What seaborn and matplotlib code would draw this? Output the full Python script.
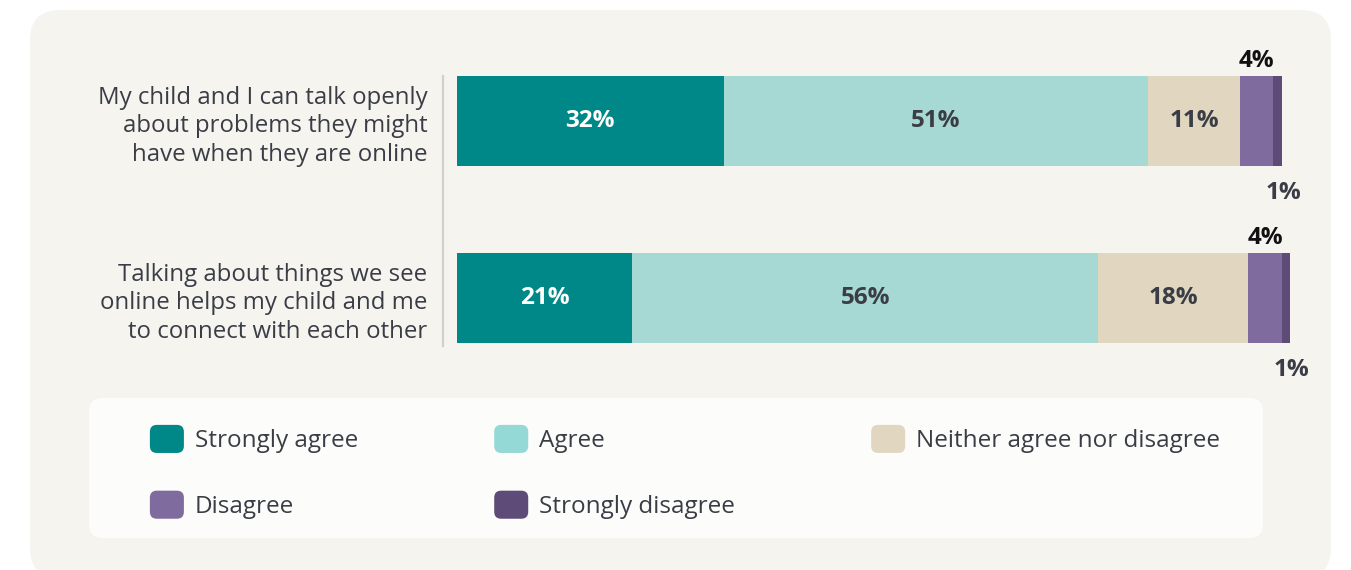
import matplotlib
matplotlib.use("Agg")
import matplotlib.pyplot as plt
from matplotlib.patches import FancyBboxPatch, Patch
from matplotlib.legend_handler import HandlerPatch
from matplotlib.transforms import IdentityTransform
import seaborn as sns
import pandas as pd

# ---- data ----
questions = [
    "My child and I can talk openly\nabout problems they might\nhave when they are online",
    "Talking about things we see\nonline helps my child and me\nto connect with each other",
]
responses = ["Strongly agree", "Agree", "Neither agree nor disagree",
             "Disagree", "Strongly disagree"]
strongly_agree = [32, 21]
agree = [51, 56]
neither = [11, 18]
disagree = [4, 4]
strongly_disagree = [1, 1]

colors = ["#008787", "#A6D8D4", "#E1D6BF", "#7F6B9E", "#5E4B78"]
legend_colors = ["#008787", "#94D9D6", "#E1D6BF", "#7F6B9E", "#5E4B78"]
text_dark = "#3A3D46"

sns.set_theme(style="white")
plt.rcParams["font.family"] = ["Open Sans", "DejaVu Sans"]

rows = []
for name, vals in zip(responses, [strongly_agree, agree, neither,
                                  disagree, strongly_disagree]):
    for q, v in zip(questions, vals):
        rows.append({"question": q, "response": name, "value": v})
df = pd.DataFrame(rows)
df["response"] = pd.Categorical(df["response"], responses, ordered=True)
df = df.sort_values(["question", "response"])
df["cum"] = df.groupby("question", sort=False)["value"].cumsum()
df["start"] = df["cum"] - df["value"]

W, H = 1351, 570
fig = plt.figure(figsize=(W / 100, H / 100), dpi=100)
fig.patch.set_facecolor("white")

# card background and legend panel (pixel coordinates)
fig.patches.append(FancyBboxPatch((30, -8), 1301, 568,
                                  boxstyle="round,pad=0,rounding_size=30",
                                  transform=IdentityTransform(),
                                  facecolor="#F5F4EF", edgecolor="none",
                                  zorder=-2))
fig.patches.append(FancyBboxPatch((89, 32), 1174, 140,
                                  boxstyle="round,pad=0,rounding_size=14",
                                  transform=IdentityTransform(),
                                  facecolor="#FCFCFA", edgecolor="none",
                                  zorder=-1))

ax = fig.add_axes([457 / W, 1 - 386.5 / H, 833 / W, 354 / H])
ax.set_facecolor("none")
ax.set_zorder(2)

bar_h = 0.51
# stacked bars: draw cumulative totals from the last segment backwards
for name, col in reversed(list(zip(responses, colors))):
    sub = df[df["response"] == name]
    sns.barplot(data=sub, x="cum", y="question", order=questions,
                color=col, saturation=1, width=bar_h, orient="h",
                linewidth=0, ax=ax)

ax.set_xlim(0, 100)
ax.set_ylim(1.5, -0.5)
ax.set_xlabel("")
ax.set_ylabel("")
ax.set_xticks([])
for s in ["top", "right", "bottom"]:
    ax.spines[s].set_visible(False)
ax.spines["left"].set_position(("outward", 10))
ax.spines["left"].set_bounds(-0.255, 1.27)
ax.spines["left"].set_color("#D2D0CC")
ax.spines["left"].set_linewidth(1.6)
ax.tick_params(axis="y", length=0, pad=11.5, labelsize=17.3,
               labelcolor=text_dark)
for lab in ax.get_yticklabels():
    lab.set_linespacing(1.27)

# value labels
lab_fs = 17.5
for _, r in df.iterrows():
    i = questions.index(r["question"])
    cx = r["start"] + r["value"] / 2
    txt = f"{r['value']}%"
    if r["response"] == "Disagree":
        ax.annotate(txt, (cx, i - bar_h / 2), xytext=(0, 10.5),
                    textcoords="offset points", ha="center", va="center",
                    fontsize=lab_fs, fontweight="bold", color="#111111",
                    annotation_clip=False)
    elif r["response"] == "Strongly disagree":
        ax.annotate(txt, (cx, i + bar_h / 2), xytext=(4, -19.5),
                    textcoords="offset points", ha="center", va="center",
                    fontsize=lab_fs, fontweight="bold", color=text_dark,
                    annotation_clip=False)
    else:
        c = "white" if r["response"] == "Strongly agree" else text_dark
        ax.text(cx, i, txt, ha="center", va="center", fontsize=lab_fs,
                fontweight="bold", color=c)


class RoundedSwatch(HandlerPatch):
    def create_artists(self, legend, orig_handle, xdescent, ydescent,
                       width, height, fontsize, trans):
        p = FancyBboxPatch((-xdescent, -ydescent), width, height,
                           boxstyle="round,pad=0,rounding_size=5",
                           facecolor=orig_handle.get_facecolor(),
                           edgecolor="none", transform=trans)
        return [p]


handles = [Patch(facecolor=c, label=l) for l, c in zip(responses, legend_colors)]
order = [0, 3, 1, 4, 2]
leg = fig.legend([handles[k] for k in order], [responses[k] for k in order],
                 ncol=3, loc="upper left",
                 bbox_to_anchor=(128 / W, 1 - 403 / H),
                 frameon=False, fontsize=17.5, labelcolor=text_dark,
                 handlelength=1.4, handleheight=1.4, handletextpad=0.45,
                 columnspacing=5.6, labelspacing=1.55, borderpad=0.4,
                 handler_map={Patch: RoundedSwatch()})

fig.savefig("out.png", dpi=100, facecolor="white")
